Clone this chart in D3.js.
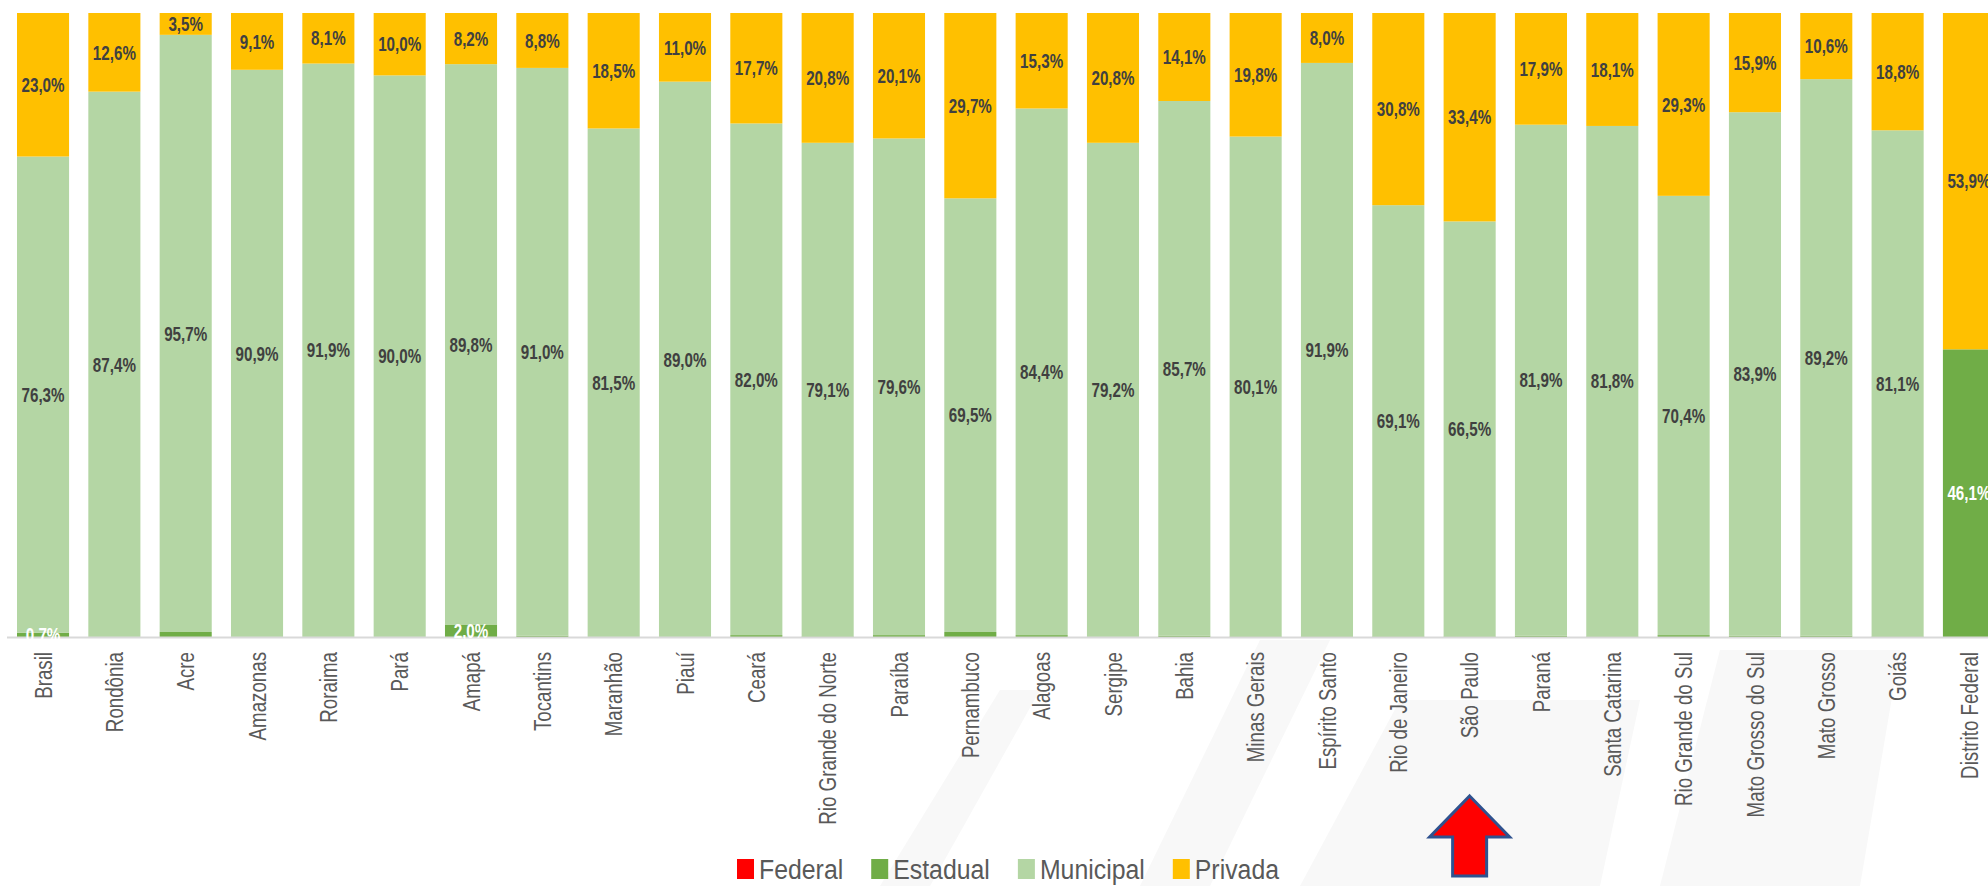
<!DOCTYPE html>
<html>
<head>
<meta charset="utf-8">
<script src="https://cdn.jsdelivr.net/npm/d3@7"></script>
<style>
  html, body { margin: 0; padding: 0; background: #ffffff; overflow: hidden; }
  svg { display: block; }
</style>
</head>
<body>
<svg id="chart" width="1988" height="886"></svg>
<script>
const categories = ["Brasil","Rondônia","Acre","Amazonas","Roraima","Pará","Amapá","Tocantins","Maranhão","Piauí","Ceará","Rio Grande do Norte","Paraíba","Pernambuco","Alagoas","Sergipe","Bahia","Minas Gerais","Espírito Santo","Rio de Janeiro","São Paulo","Paraná","Santa Catarina","Rio Grande do Sul","Mato Grosso do Sul","Mato Grosso","Goiás","Distrito Federal"];
const federal   = [0,0,0,0,0,0,0,0,0,0,0,0,0,0,0,0,0,0,0,0,0,0,0,0,0,0,0,0];
const estadual  = [0.7,0,0.8,0,0,0,2.0,0.2,0,0,0.3,0.1,0.3,0.8,0.3,0,0.2,0.1,0.1,0.1,0.1,0.2,0.1,0.3,0.2,0.2,0.1,46.1];
const municipal = [76.3,87.4,95.7,90.9,91.9,90.0,89.8,91.0,81.5,89.0,82.0,79.1,79.6,69.5,84.4,79.2,85.7,80.1,91.9,69.1,66.5,81.9,81.8,70.4,83.9,89.2,81.1,0];
const privada   = [23.0,12.6,3.5,9.1,8.1,10.0,8.2,8.8,18.5,11.0,17.7,20.8,20.1,29.7,15.3,20.8,14.1,19.8,8.0,30.8,33.4,17.9,18.1,29.3,15.9,10.6,18.8,53.9];
const seriesNames = ["Federal","Estadual","Municipal","Privada"];
const seriesColors = ["#FF0000","#70AD47","#B4D6A4","#FFC000"];
const estadualLabels = ["Brasil","Amapá","Distrito Federal"];
const highlighted = "São Paulo";

const svg = d3.select("#chart");
const fmt = v => d3.format(".1f")(v).replace(".", ",") + "%";

const rows = categories.map((c, i) => ({
  cat: c, Federal: federal[i], Estadual: estadual[i], Municipal: municipal[i], Privada: privada[i]
}));

// band scale: step ~71.33, first bar starts at x=17
const xs = d3.scaleBand().domain(categories).paddingInner(0.27).paddingOuter(0.27);
(function(){
  const n = categories.length, p = 0.27, st = 71.33;
  const r0 = 17 - p * st;
  xs.range([r0, r0 + (n + p) * st]);
})();
const y = d3.scaleLinear().domain([0, 100]).range([637, 13]);

const color = d3.scaleOrdinal().domain(seriesNames).range(seriesColors);
const stacked = d3.stack().keys(seriesNames)(rows);

// faint background watermark shapes
const wm = svg.append("g");
[[ [880,886],[1000,690],[1040,690],[930,886] ],
 [ [1140,886],[1260,640],[1330,640],[1210,886] ],
 [ [1300,886],[1400,700],[1640,700],[1600,886] ],
 [ [1660,886],[1720,650],[1900,650],[1860,886] ]].forEach(pts => {
  wm.append("path").attr("d", d3.line()(pts) + "Z").attr("fill", "#f8f8f8");
});

// bars
const gBars = svg.append("g");
stacked.forEach(layer => {
  gBars.append("g").attr("fill", color(layer.key))
    .selectAll("rect").data(layer).join("rect")
    .attr("x", d => xs(d.data.cat))
    .attr("width", xs.bandwidth())
    .attr("y", d => y(d[1]))
    .attr("height", d => Math.max(0, y(d[0]) - y(d[1])));
});

// axis baseline
svg.append("line")
  .attr("x1", 7).attr("x2", 1988)
  .attr("y1", y(0) + 0.5).attr("y2", y(0) + 0.5)
  .attr("stroke", "#d9d9d9").attr("stroke-width", 2);

// data labels
const gLab = svg.append("g")
  .attr("font-family", "'Liberation Sans', Arial, sans-serif")
  .attr("font-size", 20).attr("font-weight", "bold");
function addLabel(cx, cy, txt, fill) {
  gLab.append("g").attr("transform", `translate(${cx},${cy}) scale(0.76,1)`)
    .append("text").attr("text-anchor", "middle").attr("dy", "0.36em")
    .attr("fill", fill).text(txt);
}
stacked.forEach(layer => {
  layer.forEach(d => {
    const v = d[1] - d[0];
    const cx = xs(d.data.cat) + xs.bandwidth() / 2;
    const cy = (y(d[0]) + y(d[1])) / 2;
    if (layer.key === "Privada" && v > 0) addLabel(cx, cy, fmt(v), "#404040");
    if (layer.key === "Municipal" && v > 0) addLabel(cx, cy, fmt(v), "#404040");
    if (layer.key === "Estadual" && estadualLabels.includes(d.data.cat)) addLabel(cx, cy, fmt(v), "#ffffff");
  });
});

// x axis labels (rotated)
const gX = svg.append("g")
  .attr("font-family", "'Liberation Sans', Arial, sans-serif")
  .attr("font-size", 24).attr("fill", "#595959");
categories.forEach(c => {
  const cx = xs(c) + xs.bandwidth() / 2;
  gX.append("g").attr("transform", `translate(${cx},652) rotate(-90) scale(0.78,1)`)
    .append("text").attr("text-anchor", "end").attr("dy", "0.36em").text(c);
});

// legend
const gLeg = svg.append("g")
  .attr("font-family", "'Liberation Sans', Arial, sans-serif")
  .attr("font-size", 27).attr("fill", "#595959");
let lx = 737;
seriesNames.forEach(s => {
  gLeg.append("rect").attr("x", lx).attr("y", 859).attr("width", 17).attr("height", 20).attr("fill", color(s));
  const g = gLeg.append("g").attr("transform", `translate(${lx + 22},879) scale(0.92,1)`);
  const t = g.append("text").text(s);
  const w = t.node().getComputedTextLength() * 0.92;
  lx += 22 + w + 28;
});

// arrow annotation pointing at highlighted category
const ax = xs(highlighted) + xs.bandwidth() / 2;
const arrowPts = [[ax, 796],[ax + 40, 837],[ax + 17, 837],[ax + 17, 876],[ax - 17, 876],[ax - 17, 837],[ax - 40, 837]];
svg.append("path").attr("d", d3.line()(arrowPts) + "Z")
  .attr("fill", "#FF0000").attr("stroke", "#2F528F").attr("stroke-width", 3).attr("stroke-linejoin", "miter");
</script>
</body>
</html>
